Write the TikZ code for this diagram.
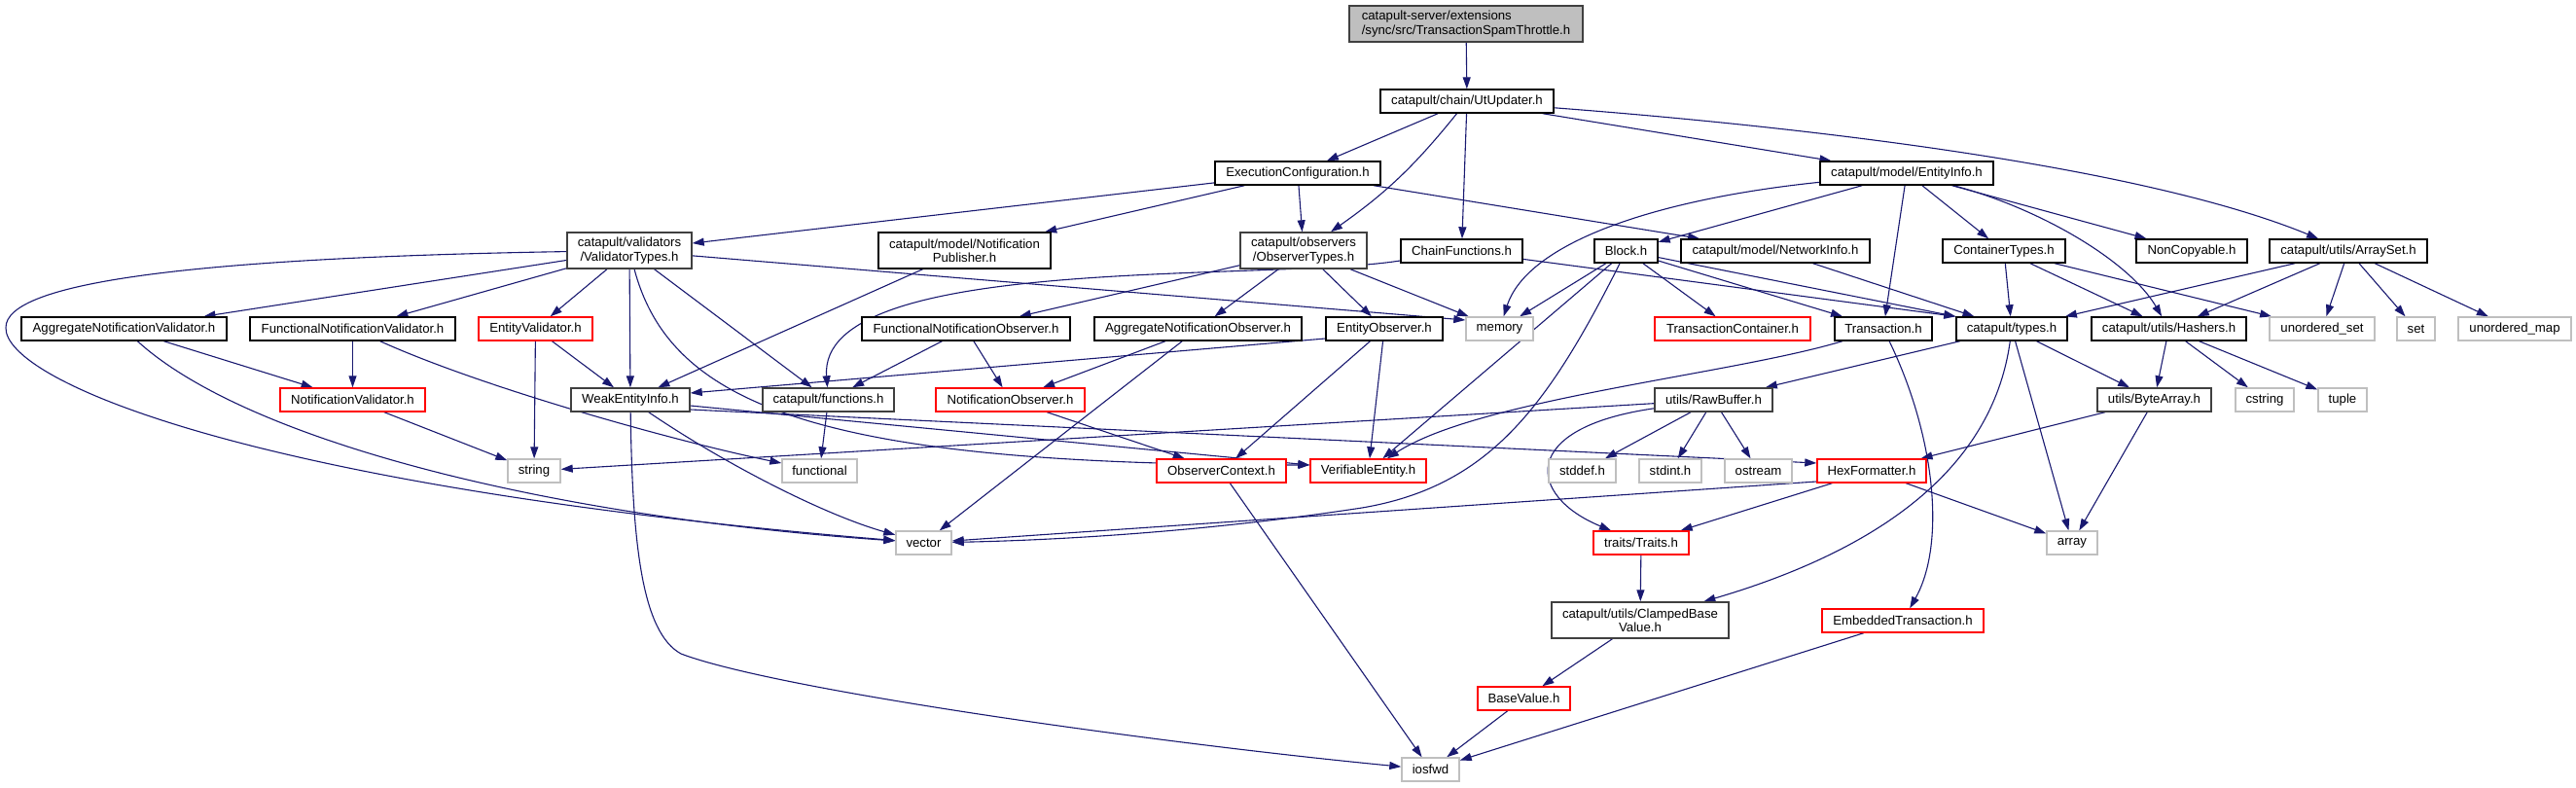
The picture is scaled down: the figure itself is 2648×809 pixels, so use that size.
\documentclass[tikz,border=0pt]{standalone}
\usepackage{fontspec}
\setmainfont{Liberation Sans}
\usetikzlibrary{arrows.meta}
\definecolor{edgec}{HTML}{191970}
\definecolor{grayb}{HTML}{BFBFBF}
\definecolor{redb}{HTML}{FF0000}
\definecolor{darkb}{HTML}{404040}
\definecolor{topfill}{HTML}{BFBFBF}
\newcommand\nfont{\fontsize{13.2}{14.4}\selectfont}
\pgfdeclarelayer{bg}
\pgfsetlayers{bg,main}
\begin{document}
\begin{tikzpicture}[x=1pt,y=-1pt,
 nd/.style={draw=black,line width=1.4pt,fill=white,minimum height=24pt,inner sep=0pt,font=\nfont,align=center,text=black},
 dk/.style={nd,draw=darkb},
 rd/.style={nd,draw=redb},
 gy/.style={nd,draw=grayb},
 two/.style={minimum height=37pt},
 e/.style={draw=edgec,line width=1.1pt,-{Triangle[length=12pt,width=8pt]}}]
\useasboundingbox (0,0) rectangle (2648,809);

% row 0-2
\node[dk,two,fill=topfill,align=left,minimum width=240pt] (top) at (1507,24.5) {catapult-server/extensions\\/sync/src/TransactionSpamThrottle.h};
\node[nd,minimum width=178pt] (ut) at (1508,104) {catapult/chain/UtUpdater.h};
\node[nd,minimum width=170pt] (ec) at (1334,178) {ExecutionConfiguration.h};
\node[nd,minimum width=178pt] (ei) at (1960,178) {catapult/model/EntityInfo.h};
% row 3
\node[dk,two,minimum width=128pt] (vt) at (647,257.5) {catapult/validators\\/ValidatorTypes.h};
\node[nd,two,minimum width=177pt] (np) at (991.5,257.5) {catapult/model/Notification\\Publisher.h};
\node[dk,two,minimum width=130pt] (ot) at (1340,257.5) {catapult/observers\\/ObserverTypes.h};
\node[nd,minimum width=125pt] (cf) at (1502.5,258) {ChainFunctions.h};
\node[nd,minimum width=65pt] (blk) at (1671.5,258) {Block.h};
\node[nd,minimum width=194pt] (ni) at (1825,258) {catapult/model/NetworkInfo.h};
\node[nd,minimum width=126pt] (ct) at (2060,258) {ContainerTypes.h};
\node[nd,minimum width=114pt] (nc) at (2253,258) {NonCopyable.h};
\node[nd,minimum width=162pt] (as) at (2414,258) {catapult/utils/ArraySet.h};
% row 4
\node[nd,minimum width=211pt] (anv) at (127.5,338) {AggregateNotificationValidator.h};
\node[nd,minimum width=211pt] (fnv) at (362.5,338) {FunctionalNotificationValidator.h};
\node[rd,minimum width=117pt] (ev) at (550.5,338) {EntityValidator.h};
\node[nd,minimum width=214pt] (fno) at (993,338) {FunctionalNotificationObserver.h};
\node[nd,minimum width=213pt] (ano) at (1231.5,338) {AggregateNotificationObserver.h};
\node[nd,minimum width=120pt] (eo) at (1423,338) {EntityObserver.h};
\node[gy,minimum width=69pt] (mem) at (1541.5,338) {memory};
\node[rd,minimum width=160pt] (tc) at (1781,338) {TransactionContainer.h};
\node[nd,minimum width=100pt] (tr) at (1936,338) {Transaction.h};
\node[nd,minimum width=114pt] (ty) at (2068,338) {catapult/types.h};
\node[nd,minimum width=159pt] (ha) at (2229.5,338) {catapult/utils/Hashers.h};
\node[gy,minimum width=108pt] (us) at (2387,338) {unordered\_set};
\node[gy,minimum width=39pt] (st) at (2483.5,338) {set};
\node[gy,minimum width=116pt] (um) at (2585,338) {unordered\_map};
% row 5
\node[rd,minimum width=149pt] (nv) at (362.5,411) {NotificationValidator.h};
\node[dk,minimum width=122pt] (wei) at (648,411) {WeakEntityInfo.h};
\node[dk,minimum width=135pt] (fn) at (851.5,411) {catapult/functions.h};
\node[rd,minimum width=153pt] (no) at (1038.5,411) {NotificationObserver.h};
\node[dk,minimum width=121pt] (rb) at (1761.5,411) {utils/RawBuffer.h};
\node[dk,minimum width=117pt] (ba) at (2214.5,411) {utils/ByteArray.h};
\node[gy,minimum width=60pt] (cs) at (2328,411) {cstring};
\node[gy,minimum width=50pt] (tu) at (2408,411) {tuple};
% row 6
\node[gy,minimum width=54pt] (str) at (549,484) {string};
\node[gy,minimum width=77pt] (fu) at (842.5,484) {functional};
\node[rd,minimum width=133pt] (oc) at (1255.5,484) {ObserverContext.h};
\node[rd,minimum width=119pt] (ve) at (1406.5,484) {VerifiableEntity.h};
\node[gy,minimum width=69pt] (sd) at (1626.5,484) {stddef.h};
\node[gy,minimum width=64pt] (si) at (1717,484) {stdint.h};
\node[gy,minimum width=69pt] (os) at (1807.5,484) {ostream};
\node[rd,minimum width=112pt] (hf) at (1924,484) {HexFormatter.h};
% row 7
\node[gy,minimum width=57pt] (vec) at (949.5,558) {vector};
\node[rd,minimum width=98pt] (trt) at (1687,558) {traits/Traits.h};
\node[gy,minimum width=52pt] (arr) at (2130,558) {array};
% rows 8-10
\node[dk,two,minimum width=182pt] (cbv) at (1686,637.5) {catapult/utils/ClampedBase\\Value.h};
\node[rd,minimum width=166pt] (emb) at (1956,638) {EmbeddedTransaction.h};
\node[rd,minimum width=95pt] (bv) at (1566.5,718) {BaseValue.h};
\node[gy,minimum width=59pt] (io) at (1470.5,791) {iosfwd};

\begin{pgfonlayer}{bg}
\draw[e] (top) -- (ut);
\draw[e] (ut) -- (ec);
\draw[e] (ut) to[bend left=8] (ot);
\draw[e] (ut) -- (cf);
\draw[e] (ut) -- (ei);
\draw[e] (ut) .. controls (1850,130) and (2200,170) .. (as);
\draw[e] (ec) -- (vt);
\draw[e] (ec) -- (np);
\draw[e] (ec) -- (ot);
\draw[e] (ec) -- (ni);
\draw[e] (ei) .. controls (1700,205) and (1570,250) .. (mem);
\draw[e] (ei) -- (blk);
\draw[e] (ei) -- (tr);
\draw[e] (ei) -- (ct);
\draw[e] (ei) .. controls (2100,215) and (2190,270) .. (ha);
\draw[e] (ei) -- (nc);
\draw[e] (vt) .. controls (200,265) and (5,290) .. (6,337) .. controls (5,390) and (250,500) .. (vec);
\draw[e] (vt) -- (anv);
\draw[e] (vt) -- (fnv);
\draw[e] (vt) -- (ev);
\draw[e] (vt) -- (wei);
\draw[e] (vt) .. controls (690,420) and (850,478) .. ([yshift=6pt]ve.west);
\draw[e] (vt) -- (fn);
\draw[e] (vt) -- ([yshift=9pt]mem.west);
\draw[e] (np) -- (wei);
\draw[e] (ot) -- (fno);
\draw[e] (ot) -- (ano);
\draw[e] (ot) -- (eo);
\draw[e] (ot) -- (mem);
\draw[e] (cf) .. controls (1300,290) and (840,260) .. (fn);
\draw[e] (cf) -- (ty.north west);
\draw[e] (blk) -- (mem);
\draw[e] (blk) -- (tc);
\draw[e] (blk) -- (tr);
\draw[e] (blk) -- (ty.north west);
\draw[e] (blk) -- (ve);
\draw[e] (blk) .. controls (1590,420) and (1530,500) .. (1400,522) .. controls (1250,545) and (1100,555) .. (vec);
\draw[e] (ni) -- (ty);
\draw[e] (ct) -- (ty);
\draw[e] (ct) -- (ha);
\draw[e] (ct) -- (us);
\draw[e] (as) -- (ty);
\draw[e] (as) -- (ha);
\draw[e] (as) -- (us);
\draw[e] (as) -- (st);
\draw[e] (as) -- (um);
\draw[e] (anv) -- (nv);
\draw[e] (anv) .. controls (250,450) and (550,530) .. (vec);
\draw[e] (fnv) -- (nv);
\draw[e] (fnv) .. controls (500,400) and (700,455) .. (fu);
\draw[e] (ev) -- (wei);
\draw[e] (ev) -- (str);
\draw[e] (fno) -- (fn);
\draw[e] (fno) -- (no);
\draw[e] (ano) -- (no);
\draw[e] (ano) -- (vec);
\draw[e] ([yshift=-10pt]eo.west) -- ([yshift=7pt]wei.east);
\draw[e] (eo) -- (oc);
\draw[e] (eo) -- (ve);
\draw[e] (tr) .. controls (1780,385) and (1520,410) .. (ve);
\draw[e] (tr) .. controls (1990,450) and (2000,560) .. (emb);
\draw[e] (ty) -- (rb);
\draw[e] (ty) -- (ba);
\draw[e] (ty) .. controls (2050,470) and (1950,560) .. (cbv);
\draw[e] (ty) -- (arr);
\draw[e] (ha) -- (ba);
\draw[e] (ha) -- (cs);
\draw[e] (ha) -- (tu);
\draw[e] (nv) -- (str);
\draw[e] ([yshift=-6pt]wei.east) -- ([yshift=6pt]ve.west);
\draw[e] ([yshift=-10pt]wei.east) -- ([yshift=8pt]hf.west);
\draw[e] (wei) .. controls (750,480) and (850,530) .. (vec);
\draw[e] (wei) .. controls (650,560) and (660,650) .. (700,672) .. controls (800,710) and (1200,765) .. (io);
\draw[e] (fn) -- (fu);
\draw[e] (no) -- (oc);
\draw[e] (rb) -- (str);
\draw[e] (rb) -- (sd);
\draw[e] (rb) -- (si);
\draw[e] (rb) -- (os);
\draw[e] (rb) .. controls (1560,440) and (1570,510) .. (trt);
\draw[e] (ba) -- (hf);
\draw[e] (ba) -- (arr);
\draw[e] ([yshift=-11pt]hf.west) -- (vec);
\draw[e] (hf) -- (trt);
\draw[e] (hf) -- (arr);
\draw[e] (trt) -- (cbv);
\draw[e] (oc) -- (io);
\draw[e] (cbv) -- (bv);
\draw[e] (bv) -- (io);
\draw[e] (emb) -- (io);
\end{pgfonlayer}
\end{tikzpicture}
\end{document}
